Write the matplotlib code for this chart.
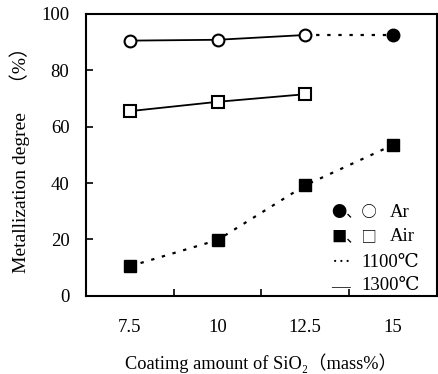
import numpy as np
import matplotlib
matplotlib.use('Agg')
import matplotlib.pyplot as plt

# Coating amount categories and measured metallization degree (%)
coating = ['7.5', '10', '12.5', '15']
ar_1300 = [90.5, 90.8, 92.5]          # open circles, solid
ar_1100_pos = [2, 3]                  # dotted link 12.5 -> 15
ar_1100 = [92.5, 92.5]
air_1300 = [65.5, 68.8, 71.5]         # open squares, solid
air_1100 = [10.5, 19.8, 39.2, 53.5]   # filled squares, dotted

fonts = ['Liberation Serif', 'DejaVu Serif', 'Noto Sans CJK JP']
plt.rcParams['font.family'] = fonts

fig = plt.figure(figsize=(4.39, 3.74), dpi=100)
ax = fig.add_axes([0.196, 0.209, 0.799, 0.754])

x = np.arange(len(coating))
dot = (0, (1.5, 3.5))

ax.plot(x[:3], ar_1300, '-', color='black', lw=1.3, marker='o', ms=8.5,
        mfc='white', mec='black', mew=1.5, zorder=3)
ax.plot(ar_1100_pos, ar_1100, linestyle=dot, color='black', lw=1.6, zorder=2)
ax.plot([ar_1100_pos[-1]], [ar_1100[-1]], 'o', color='black', ms=9, zorder=3)
ax.plot(x[:3], air_1300, '-', color='black', lw=1.3, marker='s', ms=8.5,
        mfc='white', mec='black', mew=1.5, zorder=3)
ax.plot(x, air_1100, linestyle=dot, color='black', lw=1.6, marker='s', ms=9,
        mfc='black', mec='black', zorder=3)

ax.set_xlim(-0.5, 3.5)
ax.set_ylim(0, 100)
ax.set_xticks(x)
ax.set_xticklabels(coating)
ax.set_xticks([0.5, 1.5, 2.5], minor=True)
ax.tick_params(axis='x', which='major', length=0, pad=17, labelsize=13.5)
ax.tick_params(axis='x', which='minor', direction='in', length=5, width=1.2)
ax.set_yticks([0, 20, 40, 60, 80, 100])
ax.tick_params(axis='y', direction='in', length=5, width=1.2, pad=12, labelsize=13.5)
for s in ax.spines.values():
    s.set_linewidth(1.5)

ax.set_xlabel('Coatimg amount of SiO₂（mass%）', fontsize=13.2, labelpad=12)
ax.set_ylabel('Metallization degree　（%）', fontsize=14, labelpad=8)

# legend
tx = 0.70
cjk = ['Noto Sans CJK JP']
ax.text(tx, 0.295, '●、○', transform=ax.transAxes, fontsize=11, va='center',
        family=cjk)
ax.text(0.865, 0.295, 'Ar', transform=ax.transAxes, fontsize=13.5, va='center')
ax.text(tx, 0.21, '■、□', transform=ax.transAxes, fontsize=11, va='center',
        family=cjk)
ax.text(0.865, 0.21, 'Air', transform=ax.transAxes, fontsize=13.5, va='center')
ax.text(tx, 0.118, '···', transform=ax.transAxes, fontsize=13.5, va='center')
ax.text(0.785, 0.118, '1100℃', transform=ax.transAxes, fontsize=13.5, va='center')
ax.text(tx, 0.03, '—', transform=ax.transAxes, fontsize=13.5, va='center')
ax.text(0.785, 0.035, '1300℃', transform=ax.transAxes, fontsize=13.5, va='center')

fig.savefig('out.png', dpi=100)
